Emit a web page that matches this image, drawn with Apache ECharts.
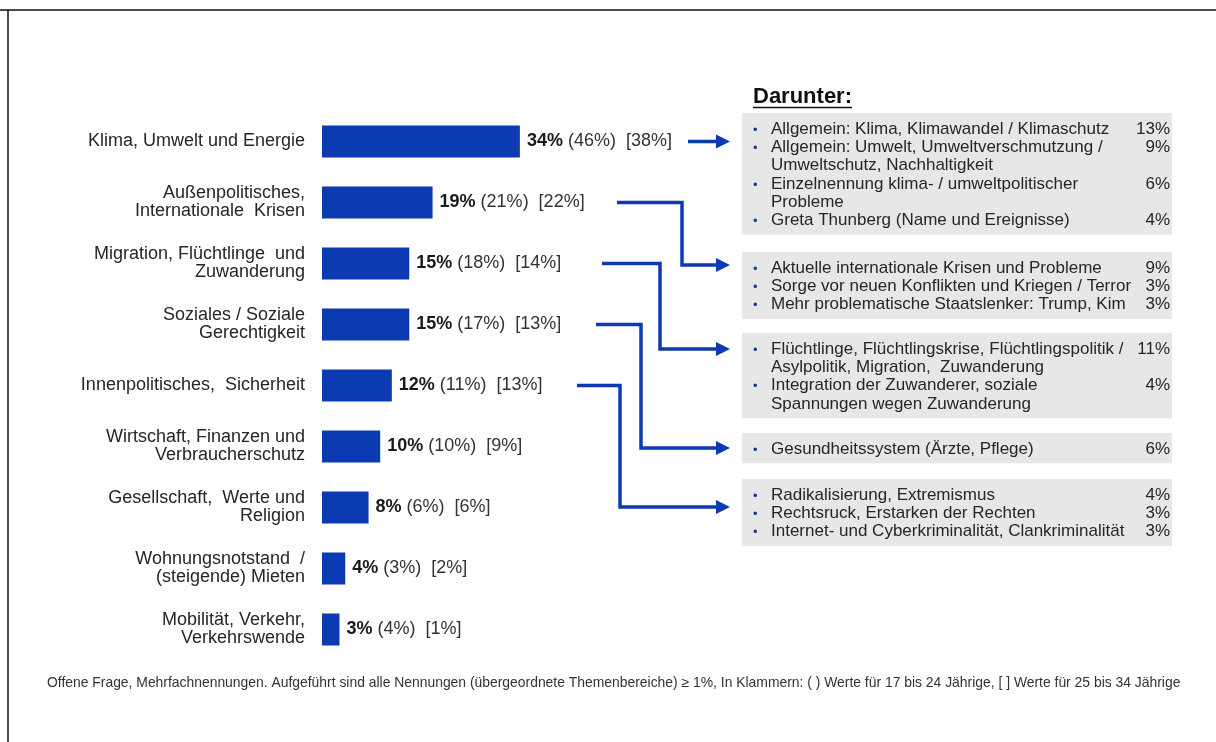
<!DOCTYPE html>
<html>
<head>
<meta charset="utf-8">
<script src="https://cdn.jsdelivr.net/npm/echarts@6/dist/echarts.min.js"></script>
<style>
  html, body { margin: 0; padding: 0; background: #fff; }
  #main { width: 1216px; height: 742px; }
</style>
</head>
<body>
<div id="main"></div>
<script>
// Themenbereiche, gesamt / 17-24 Jahre / 25-34 Jahre
var categories = [
  'Klima, Umwelt und Energie',
  'Außenpolitisches,\nInternationale  Krisen',
  'Migration, Flüchtlinge  und\nZuwanderung',
  'Soziales / Soziale\nGerechtigkeit',
  'Innenpolitisches,  Sicherheit',
  'Wirtschaft, Finanzen und\nVerbraucherschutz',
  'Gesellschaft,  Werte und\nReligion',
  'Wohnungsnotstand  /\n(steigende) Mieten',
  'Mobilität, Verkehr,\nVerkehrswende'
];
var shareAll = [34, 19, 15, 15, 12, 10, 8, 4, 3];
var share17to24 = [46, 21, 18, 17, 11, 10, 6, 3, 4];
var share25to34 = [38, 22, 14, 13, 13, 9, 6, 2, 1];

// Darunter
var klimaItems = [
  'Allgemein: Klima, Klimawandel / Klimaschutz',
  'Allgemein: Umwelt, Umweltverschmutzung /\nUmweltschutz, Nachhaltigkeit',
  'Einzelnennung klima- / umweltpolitischer\nProbleme',
  'Greta Thunberg (Name und Ereignisse)'
];
var klimaValues = [13, 9, 6, 4];
var aussenItems = [
  'Aktuelle internationale Krisen und Probleme',
  'Sorge vor neuen Konflikten und Kriegen / Terror',
  'Mehr problematische Staatslenker: Trump, Kim'
];
var aussenValues = [9, 3, 3];
var migrationItems = [
  'Flüchtlinge, Flüchtlingskrise, Flüchtlingspolitik /\nAsylpolitik, Migration,  Zuwanderung',
  'Integration der Zuwanderer, soziale\nSpannungen wegen Zuwanderung'
];
var migrationValues = [11, 4];
var sozialesItems = ['Gesundheitssystem (Ärzte, Pflege)'];
var sozialesValues = [6];
var innenItems = [
  'Radikalisierung, Extremismus',
  'Rechtsruck, Erstarken der Rechten',
  'Internet- und Cyberkriminalität, Clankriminalität'
];
var innenValues = [4, 3, 3];

var footnote = 'Offene Frage, Mehrfachnennungen. Aufgeführt sind alle Nennungen (übergeordnete Themenbereiche) ≥ 1%, In Klammern: ( ) Werte für 17 bis 24 Jährige, [ ] Werte für 25 bis 34 Jährige';

var BLUE = '#0c3ab2';
var FONT = '"Liberation Sans", Arial, sans-serif';

var chart = echarts.init(document.getElementById('main'), null, {renderer: 'canvas'});

chart.setOption({
  animation: false,
  backgroundColor: '#fff',
  grid: {left: 322, top: 111, width: 582, height: 549},
  xAxis: {type: 'value', min: 0, max: 100, show: false},
  yAxis: {
    type: 'category',
    inverse: true,
    data: categories,
    axisLine: {show: false},
    axisTick: {show: false},
    axisLabel: {margin: 17, fontSize: 18, lineHeight: 18, color: '#262626', fontFamily: FONT, align: 'right'}
  },
  series: [{
    type: 'bar',
    data: shareAll,
    barWidth: 32,
    itemStyle: {color: BLUE},
    label: {
      show: true,
      position: 'right',
      distance: 7,
      fontSize: 18,
      fontFamily: FONT,
      color: '#333',
      formatter: function (p) {
        var i = p.dataIndex;
        return '{b|' + shareAll[i] + '%} (' + share17to24[i] + '%)  [' + share25to34[i] + '%]';
      },
      rich: {b: {fontWeight: 'bold', fontSize: 18, color: '#1a1a1a', fontFamily: FONT}}
    }
  }]
});

// boxes on the right side
var LINE_H = 18.3;
var boxes = [
  {top: 113, items: klimaItems, values: klimaValues, cat: 0, startX: 688, elbowX: null, arrowY: null},
  {top: 252, items: aussenItems, values: aussenValues, cat: 1, startX: 617, elbowX: 682, arrowY: 265},
  {top: 333, items: migrationItems, values: migrationValues, cat: 2, startX: 602, elbowX: 660, arrowY: 349},
  {top: 433, items: sozialesItems, values: sozialesValues, cat: 3, startX: 596, elbowX: 641, arrowY: 448},
  {top: 479, items: innenItems, values: innenValues, cat: 4, startX: 577, elbowX: 620, arrowY: 507}
];

var graphics = [
  {type: 'line', shape: {x1: 0, y1: 10, x2: 1216, y2: 10}, style: {stroke: '#111', lineWidth: 1.5}},
  {type: 'line', shape: {x1: 8, y1: 10, x2: 8, y2: 742}, style: {stroke: '#111', lineWidth: 1.5}},
  {type: 'text', x: 753, y: 86, style: {text: 'Darunter:', fontSize: 22, fontWeight: 'bold', fontFamily: FONT, fill: '#111'}},
  {type: 'line', shape: {x1: 753, y1: 107.5, x2: 852, y2: 107.5}, style: {stroke: '#111', lineWidth: 1.5}},
  {type: 'text', x: 47, y: 676, style: {text: footnote, fontSize: 13.9, fontFamily: FONT, fill: '#333'}}
];

boxes.forEach(function (b) {
  var nLines = 0;
  b.items.forEach(function (t) { nLines += t.split('\n').length; });
  var h = nLines * LINE_H + 12;
  graphics.push({type: 'rect', shape: {x: 742, y: b.top, width: 430, height: h}, style: {fill: '#e7e7e7'}});
  var y = b.top + 7;
  b.items.forEach(function (t, k) {
    graphics.push({type: 'text', x: 753, y: y + 1, style: {text: '•', fontSize: 13, fontFamily: FONT, fill: BLUE, lineHeight: LINE_H}});
    graphics.push({type: 'text', x: 771, y: y, style: {text: t, fontSize: 17, fontFamily: FONT, fill: '#262626', lineHeight: LINE_H}});
    graphics.push({type: 'text', x: 1170, y: y, style: {text: b.values[k] + '%', fontSize: 17, fontFamily: FONT, fill: '#262626', align: 'right', lineHeight: LINE_H}});
    y += t.split('\n').length * LINE_H;
  });

  // connector arrow from the bar row
  var rowY = chart.convertToPixel({yAxisIndex: 0}, b.cat);
  var endY = b.arrowY === null ? rowY : b.arrowY;
  var tipX = 730;
  var pts = b.elbowX === null
    ? [[b.startX, rowY], [tipX - 12, rowY]]
    : [[b.startX, rowY], [b.elbowX, rowY], [b.elbowX, endY], [tipX - 12, endY]];
  graphics.push({type: 'polyline', shape: {points: pts}, style: {stroke: BLUE, lineWidth: 3.5, fill: null}});
  graphics.push({type: 'polygon', shape: {points: [[tipX - 14, endY - 7], [tipX, endY], [tipX - 14, endY + 7]]}, style: {fill: BLUE}});
});

chart.setOption({graphic: graphics});
</script>
</body>
</html>
